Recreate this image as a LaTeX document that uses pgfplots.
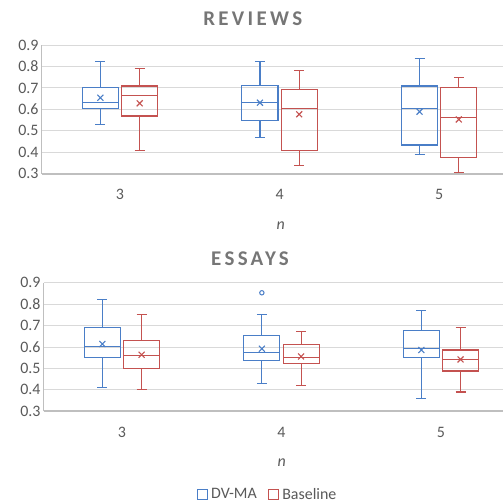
\documentclass[border=0pt]{standalone}
\usepackage{fontspec}
\setmainfont{Carlito}
\usepackage{pgfplots}
\pgfplotsset{compat=1.18}
\usepgfplotslibrary{statistics}
\definecolor{myblue}{RGB}{74,126,199}
\definecolor{myred}{RGB}{196,82,80}
\definecolor{gridgray}{RGB}{217,217,217}
\definecolor{axisgray}{RGB}{191,191,191}
\definecolor{ticktext}{RGB}{89,89,89}
\definecolor{titlegray}{RGB}{118,118,118}
\pgfplotsset{
  mystyle/.style={
    scale only axis,
    boxplot/draw direction=y,
    ymin=0.3, ymax=0.9,
    ytick={0.3,0.4,0.5,0.6,0.7,0.8,0.9},
    yticklabel style={/pgf/number format/fixed,/pgf/number format/precision=1,/pgf/number format/fixed zerofill},
    /pgf/number format/assume math mode=true,
    xtick={0,1,2}, xticklabels={3,4,5},
    xticklabel style={yshift=-12bp},
    tick label style={font=\fontsize{16}{19}\selectfont, text=ticktext},
    label style={font=\fontsize{16}{19}\selectfont\itshape, text=ticktext},
    major tick length=0pt,
    ymajorgrids, grid style={color=gridgray, line width=1bp},
    axis x line*=bottom, axis y line*=left,
    x axis line style={-, color=axisgray, line width=2bp},
    y axis line style={-, color=axisgray, line width=1bp},
  },
  meanx/.style={only marks, mark=x, mark size=4.2bp, mark options={line width=1.1bp}, forget plot},
}
\newcommand{\bx}[7]{% color, pos, lw, q1, med, q3, uw
  \addplot[#1, line width=1.1bp, forget plot, boxplot prepared={draw direction=y, draw position=#2, lower whisker=#3, lower quartile=#4, median=#5, upper quartile=#6, upper whisker=#7, box extend=0.226, whisker extend=0.063}] coordinates {};
}
\begin{document}
\begin{tikzpicture}
\useasboundingbox (0,0) rectangle (503bp,-502bp);
\node[font=\fontsize{21}{25}\selectfont\bfseries\addfontfeatures{LetterSpace=16}, text=titlegray] at (252.8bp,-18.8bp) {REVIEWS};
\node[font=\fontsize{21}{25}\selectfont\bfseries\addfontfeatures{LetterSpace=16}, text=titlegray] at (250bp,-258.8bp) {ESSAYS};
% ---------------- REVIEWS ----------------
\begin{axis}[mystyle, at={(42bp,-173.7bp)}, anchor=south west, width=461bp, height=128.7bp,
  xmin=-0.489, xmax=2.40,
  xlabel={n}, xlabel style={at={(axis description cs:0.518,-0.40)}, anchor=center}]
\bx{myblue}{-0.123}{0.528}{0.606}{0.634}{0.701}{0.821}
\bx{myred}{0.123}{0.409}{0.569}{0.664}{0.709}{0.790}
\bx{myblue}{0.877}{0.469}{0.547}{0.634}{0.713}{0.821}
\bx{myred}{1.123}{0.337}{0.409}{0.603}{0.692}{0.780}
\bx{myblue}{1.877}{0.389}{0.434}{0.603}{0.709}{0.839}
\bx{myred}{2.123}{0.306}{0.376}{0.560}{0.701}{0.749}
\addplot[myblue, meanx] coordinates {(-0.123,0.654) (0.877,0.631) (1.877,0.589)};
\addplot[myred, meanx] coordinates {(0.123,0.628) (1.123,0.577) (2.123,0.553)};
\end{axis}
% ---------------- ESSAYS ----------------
\begin{axis}[mystyle, at={(44bp,-411.3bp)}, anchor=south west, width=459bp, height=128.6bp,
  xmin=-0.489, xmax=2.389,
  xlabel={n}, xlabel style={at={(axis description cs:0.518,-0.40)}, anchor=center},
  legend columns=2,
  legend style={at={(axis description cs:0.487,-0.645)}, anchor=center, draw=none, fill=none,
    font=\fontsize{16}{19}\selectfont, text=ticktext}]
\bx{myblue}{-0.123}{0.413}{0.549}{0.602}{0.693}{0.821}
\bx{myred}{0.123}{0.401}{0.500}{0.561}{0.630}{0.751}
\bx{myblue}{0.877}{0.431}{0.536}{0.575}{0.654}{0.751}
\bx{myred}{1.123}{0.421}{0.521}{0.552}{0.612}{0.671}
\bx{myblue}{1.877}{0.361}{0.549}{0.592}{0.679}{0.771}
\bx{myred}{2.123}{0.390}{0.488}{0.542}{0.586}{0.690}
\addplot[myblue, meanx] coordinates {(-0.123,0.614) (0.877,0.592) (1.877,0.586)};
\addplot[myred, meanx] coordinates {(0.123,0.564) (1.123,0.556) (2.123,0.542)};
\addplot[myblue, only marks, mark=o, mark size=2.2bp, mark options={line width=1bp}, forget plot] coordinates {(0.877,0.853)};
\addlegendimage{legend image code/.code={\draw[draw=myblue, line width=1bp, fill=none] (0bp,-5bp) rectangle (10bp,5bp);}}
\addlegendentry{\rule{1.5bp}{0pt}DV-MA\rule{9bp}{0pt}}
\addlegendimage{legend image code/.code={\draw[draw=myred, line width=1bp, fill=none] (0bp,-5bp) rectangle (10bp,5bp);}}
\addlegendentry{\rule{1.5bp}{0pt}Baseline}
\end{axis}
\end{tikzpicture}
\end{document}
